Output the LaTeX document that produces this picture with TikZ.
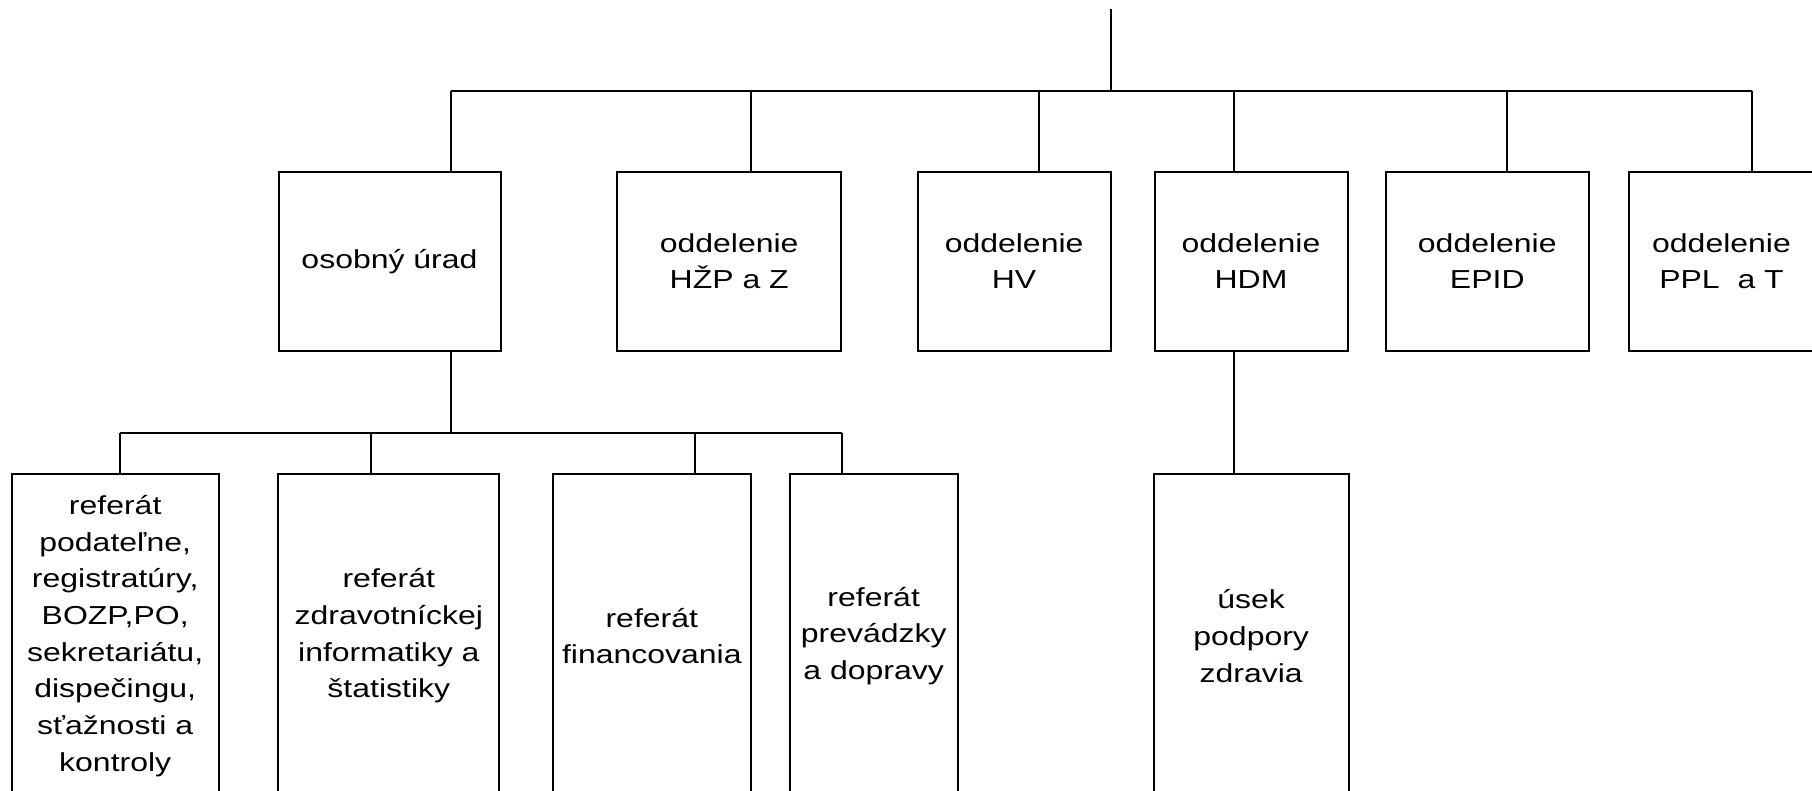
\documentclass[tikz,border=0pt]{standalone}
\usepackage{fontspec}
\setmainfont{Liberation Sans}[FakeStretch=1.23]

\begin{document}
\begin{tikzpicture}[x=1pt, y=-1pt, line width=2pt, box/.style={rectangle, draw, inner sep=0pt, align=center, font=\fontsize{26}{36.7}\selectfont}, unit/.style={box, minimum height=179pt}, ref/.style={box, minimum height=324pt}]

            \useasboundingbox (0,0) rectangle (1812,790);
            \clip (0,0) rectangle (1812,790);

            \node[unit, minimum width=222pt] (OU) at (389.5,261.2) {osobný úrad};
            \node[unit, minimum width=224pt] (HZP) at (729.2,261.2) {oddelenie\\HŽP a Z};
            \node[unit, minimum width=193pt] (HV) at (1014.1,261.2) {oddelenie\\HV};
            \node[unit, minimum width=193pt] (HDM) at (1251,261.2) {oddelenie\\HDM};
            \node[unit, minimum width=203.4pt] (EPID) at (1487.3,261.2) {oddelenie\\EPID};
            \node[unit, minimum width=185pt] (PPL) at (1721.5,261.2) {oddelenie\\PPL\ \ a T};

            \node[ref, minimum width=207.3pt] (R1) at (115.2,636) {referát\\podateľne,\\registratúry,\\BOZP,PO,\\sekretariátu,\\dispečingu,\\sťažnosti a\\kontroly};
            \node[ref, minimum width=221.3pt] (R2) at (388.8,636) {referát\\zdravotníckej\\informatiky a\\štatistiky};
            \node[ref, minimum width=197.7pt] (R3) at (651.8,636) {referát\\financovania};
            \node[ref, minimum width=168.4pt] (R4) at (873.7,636) {referát\\prevádzky\\a dopravy};
            \node[ref, minimum width=194.7pt] (PZ) at (1251.2,636) {úsek\\podpory\\zdravia};

            % top bus
            \coordinate (root) at (1110.6,9);
            \coordinate (bus) at (1110.6,90.7);
            \coordinate (j1) at (450.7,90.7);
            \coordinate (j2) at (751.2,90.7);
            \coordinate (j3) at (1038.9,90.7);
            \coordinate (j4) at (1234.2,90.7);
            \coordinate (j5) at (1506.9,90.7);
            \coordinate (j6) at (1752,90.7);

            % bus under osobny urad
            \coordinate (k) at (450.7,433);
            \coordinate (k1) at (119.9,433);
            \coordinate (k2) at (370.5,433);
            \coordinate (k3) at (694.5,433);
            \coordinate (k4) at (841.8,433);

            \draw (root) -- (bus);
            \draw (j1) -- (j6);
            \draw (j1) -- (j1 |- OU.north);
            \draw (j2) -- (j2 |- HZP.north);
            \draw (j3) -- (j3 |- HV.north);
            \draw (j4) -- (j4 |- HDM.north);
            \draw (j5) -- (j5 |- EPID.north);
            \draw (j6) -- (j6 |- PPL.north);

            \draw (k |- OU.south) -- (k);
            \draw (k1) -- (k4);
            \draw (k1) -- (k1 |- R1.north);
            \draw (k2) -- (k2 |- R2.north);
            \draw (k3) -- (k3 |- R3.north);
            \draw (k4) -- (k4 |- R4.north);

            \draw (j4 |- HDM.south) -- (j4 |- PZ.north);

        \end{tikzpicture}
\end{document}
